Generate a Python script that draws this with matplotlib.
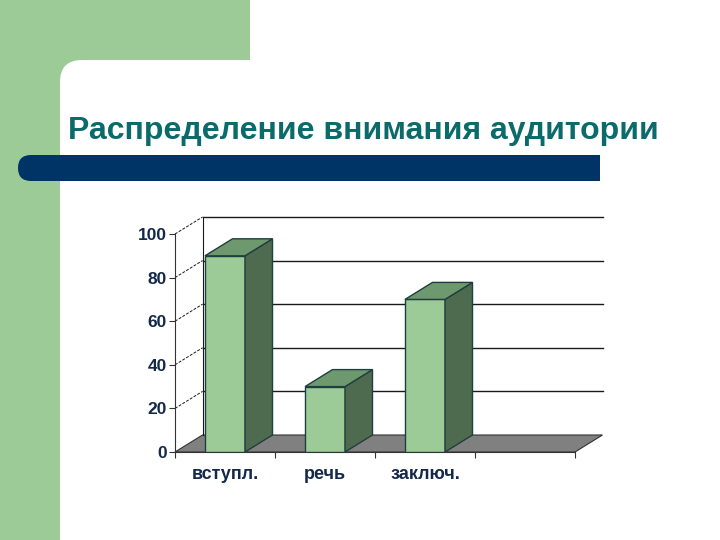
import matplotlib
matplotlib.use("Agg")
import matplotlib.pyplot as plt
from matplotlib.patches import Rectangle, FancyBboxPatch, Polygon

plt.rcParams['font.family'] = ['Liberation Sans', 'DejaVu Sans']

# данные
title = "Распределение внимания аудитории"
categories = ["вступл.", "речь", "заключ.", ""]
values = [90, 30, 70]
y_ticks = [0, 20, 40, 60, 80, 100]

green = '#9ccb98'
navy = '#003366'
label_color = '#13284a'

fig = plt.figure(figsize=(7.2, 5.4), dpi=100)

# фон слайда (в пикселях)
bg = fig.add_axes([0, 0, 1, 1])
bg.set_xlim(0, 720)
bg.set_ylim(540, 0)
bg.axis('off')
bg.add_patch(Rectangle((0, 0), 250, 80, color=green, lw=0))
bg.add_patch(Rectangle((0, 0), 60, 540, color=green, lw=0))
bg.add_patch(FancyBboxPatch((60, 60), 800, 600,
                            boxstyle="round,pad=0,rounding_size=22",
                            fc='white', ec='none'))
bg.add_patch(FancyBboxPatch((18, 155), 300, 26,
                            boxstyle="round,pad=0,rounding_size=13",
                            fc=navy, ec='none'))
bg.add_patch(Rectangle((100, 155), 500, 26, fc=navy, lw=0))
bg.text(68, 139, title, fontsize=23, fontweight='bold', color='#0b6a6a',
        ha='left', va='baseline')

# диаграмма
ax = fig.add_axes([175 / 720, 88 / 540, 400 / 720, 218 / 540])
ax.set_xlim(0, len(categories))
ax.set_ylim(0, 100)
ax.patch.set_alpha(0)

n = len(categories)
dx, dy = 0.275, 7.8

# пол
ax.add_patch(Polygon([(0, 0), (n, 0), (n + dx, dy), (dx, dy)], closed=True,
                     fc='#808080', ec='#333333', lw=0.8, clip_on=False, zorder=1))

# задняя стенка и сетка
for t in y_ticks[1:]:
    ax.plot([dx, n + dx], [t + dy, t + dy], color='#1a1a1a', lw=1,
            clip_on=False, zorder=1.5)
    ax.plot([0, dx], [t, t + dy], color='#1a1a1a', lw=0.7, ls=(0, (3, 1.5)),
            clip_on=False, zorder=1.5)
ax.plot([dx, dx], [dy, 100 + dy], color='#1a1a1a', lw=0.8, clip_on=False, zorder=1.5)

# столбики
xs = [i + 0.5 for i in range(len(values))]
w = 0.4
ax.bar(xs, values, width=w, color=green, edgecolor='#1f3f3f', lw=1, zorder=3)
for x, v in zip(xs, values):
    x0, x1 = x - w / 2, x + w / 2
    ax.add_patch(Polygon([(x1, 0), (x1 + dx, dy), (x1 + dx, v + dy), (x1, v)],
                         closed=True, fc='#4f6b4f', ec='#1f3f3f', lw=1,
                         clip_on=False, zorder=3))
    ax.add_patch(Polygon([(x0, v), (x1, v), (x1 + dx, v + dy), (x0 + dx, v + dy)],
                         closed=True, fc='#6e996e', ec='#1f3f3f', lw=1,
                         clip_on=False, zorder=3))

# оси
for s in ['top', 'right']:
    ax.spines[s].set_visible(False)
ax.spines['left'].set_color('#333333')
ax.spines['left'].set_linewidth(0.8)
ax.spines['bottom'].set_color('#333333')
ax.spines['bottom'].set_linewidth(0.8)

ax.set_yticks(y_ticks)
ax.set_yticklabels([str(t) for t in y_ticks], fontsize=12.5, fontweight='bold',
                   color=label_color)
ax.tick_params(axis='y', length=4, width=0.8, color='#333333', pad=2)

ax.set_xticks([i + 0.5 for i in range(n)])
ax.set_xticklabels(categories, fontsize=13, fontweight='bold', color=label_color)
ax.set_xticks(range(n + 1), minor=True)
ax.tick_params(axis='x', which='major', length=0, pad=10)
ax.tick_params(axis='x', which='minor', length=4, width=0.8, color='#333333')

fig.savefig('out.png', dpi=100)
